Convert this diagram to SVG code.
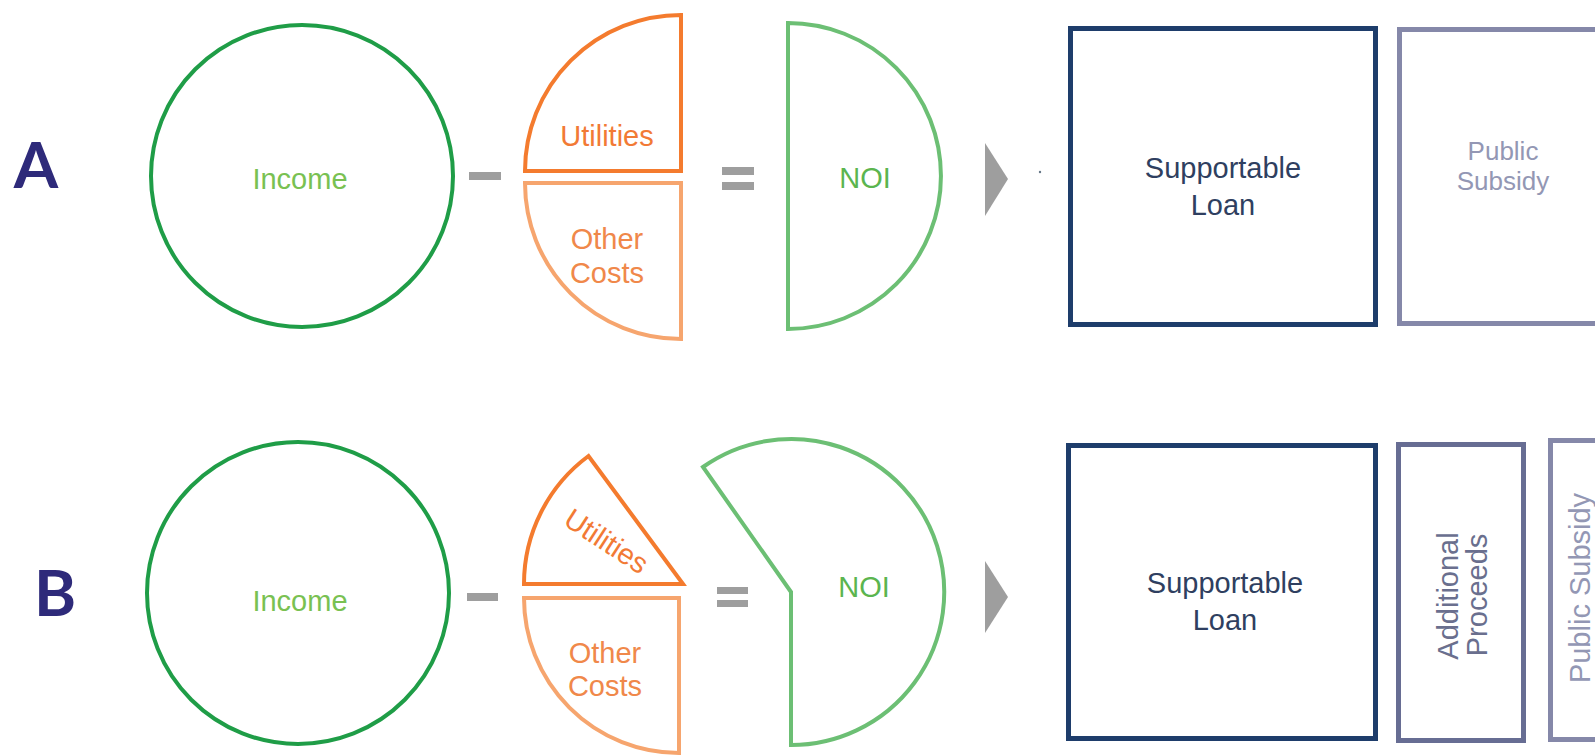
<svg xmlns="http://www.w3.org/2000/svg" width="1595" height="756" viewBox="0 0 1595 756">
<style>
text{font-family:"Liberation Sans",Arial,sans-serif;font-size:29px;text-anchor:middle}
.lbl{font-family:Lato,"Liberation Sans",sans-serif;font-weight:bold;font-size:64px;fill:#2e2a7a}
.inc{fill:none;stroke:#1f9d47;stroke-width:4}
.inct{fill:#79c152}
.util{fill:none;stroke:#f47b2e;stroke-width:4}
.utilt{fill:#f27a35}
.oth{fill:none;stroke:#f6a56e;stroke-width:4}
.otht{fill:#f0884a}
.noi{fill:none;stroke:#6cbf74;stroke-width:4}
.noit{fill:#5bb54f}
.op{fill:#9e9e9e}
.loan{fill:none;stroke:#1e3d6b;stroke-width:5}
.loant{fill:#2f3f60}
.add{fill:none;stroke:#676d93;stroke-width:5}
.addt{fill:#6a6f8e}
.pub{fill:none;stroke:#8588a9;stroke-width:5}
.pubt{fill:#9397b4}
.small{font-size:26px}
</style>
<rect width="1595" height="756" fill="#ffffff"/>

<g id="labelA"><text class="lbl" x="36" y="188">A</text></g>
<g id="labelB"><text class="lbl" x="55" y="616">B</text></g>

<!-- Row A -->
<g id="incomeA">
<circle class="inc" cx="302" cy="176" r="151"/>
<text class="inct" x="300" y="189">Income</text>
</g>
<g id="utilitiesA">
<path class="util" d="M681,171 L681,15 A156,156 0 0 0 525,171 Z"/>
<text class="utilt" x="607" y="146">Utilities</text>
</g>
<g id="otherA">
<path class="oth" d="M525,183 L681,183 L681,339 A156,156 0 0 1 525,183 Z"/>
<text class="otht" x="607" y="249">Other</text>
<text class="otht" x="607" y="283">Costs</text>
</g>
<g id="noiA">
<path class="noi" d="M788,23 A153,153 0 0 1 788,329 Z"/>
<text class="noit" x="865" y="188">NOI</text>
</g>
<g id="loanA">
<rect class="loan" x="1070.5" y="28.5" width="305" height="296"/>
<text class="loant" x="1223" y="178">Supportable</text>
<text class="loant" x="1223" y="215">Loan</text>
</g>
<g id="subsidyA">
<rect class="pub" x="1399.5" y="29.5" width="220" height="294"/>
<text class="pubt small" x="1503" y="160">Public</text>
<text class="pubt small" x="1503" y="190">Subsidy</text>
</g>

<!-- Row B -->
<g id="incomeB">
<circle class="inc" cx="298" cy="593" r="151"/>
<text class="inct" x="300" y="611">Income</text>
</g>
<g id="utilitiesB">
<path class="util" d="M683,584 L588.5,456 A159,159 0 0 0 524,584 Z"/>
<text class="utilt" transform="translate(606,542) rotate(33)" y="9">Utilities</text>
</g>
<g id="otherB">
<path class="oth" d="M524,598 L679,598 L679,753 A155,155 0 0 1 524,598 Z"/>
<text class="otht" x="605" y="663">Other</text>
<text class="otht" x="605" y="696">Costs</text>
</g>
<g id="noiB">
<path class="noi" d="M791,592 L703,467 A153,153 0 1 1 791,745 Z"/>
<text class="noit" x="864" y="597">NOI</text>
</g>
<g id="loanB">
<rect class="loan" x="1068.5" y="445.5" width="307" height="293"/>
<text class="loant" x="1225" y="593">Supportable</text>
<text class="loant" x="1225" y="630">Loan</text>
</g>
<g id="additionalB">
<rect class="add" x="1398.5" y="444.5" width="125" height="296"/>
<text class="addt" transform="translate(1458,596) rotate(-90)">Additional</text>
<text class="addt" transform="translate(1487,595) rotate(-90)">Proceeds</text>
</g>
<g id="subsidyB">
<rect class="pub" x="1550.5" y="440.5" width="100" height="299"/>
<text class="pubt" transform="translate(1590,588) rotate(-90)">Public Subsidy</text>
</g>

<g id="connectors">
<rect class="op" x="469" y="172" width="32" height="8"/>
<rect class="op" x="722" y="167" width="32" height="8"/>
<rect class="op" x="722" y="182" width="32" height="8"/>
<polygon class="op" fill="#a3a3a3" points="985,143 1008,179 985,216"/>
<circle cx="1040" cy="172" r="1.2" fill="#667788"/>
<rect class="op" x="467" y="593" width="31" height="8"/>
<rect class="op" x="717" y="587" width="31" height="7"/>
<rect class="op" x="717" y="600" width="31" height="7"/>
<polygon class="op" points="985,561 1008,597 985,633"/>
</g>
</svg>
